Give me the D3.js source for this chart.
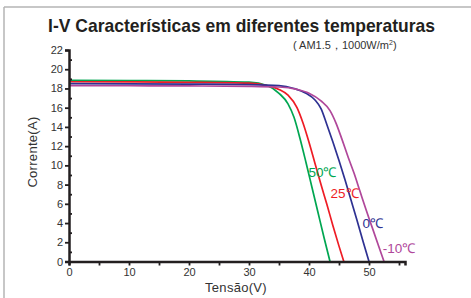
<!DOCTYPE html>
<html><head><meta charset="utf-8">
<script src="https://cdn.jsdelivr.net/npm/d3@7"></script>
<style>body{margin:0;background:#fff}svg{display:block}text{font-family:"Liberation Sans",Arial,sans-serif}</style>
</head><body><svg id="c" width="471" height="298"></svg>
<script>
const titleText = "I-V Características em diferentes temperaturas";
const xLabel = "Tensão(V)";
const yLabel = "Corrente(A)";
const xTicks = [0,10,20,30,40,50];
const xMinorTicks = [5,15,25,35,45,55];
const yTicks = [0,2,4,6,8,10,12,14,16,18,20,22];
const yMinorTicks = [1,3,5,7,9,11,13,15,17,19,21];
const seriesNames = ["50℃","25℃","0℃","-10℃"];
const seriesColors = ["#00a651","#ee1c25","#2e3192","#b0479a"];
const v50 = [0,10,20,30,33,35,36.5,37.5,38.5,39.5,40.5,41.5,42.5,43.5];
const i50 = [18.85,18.82,18.78,18.65,18.3,17.5,16.4,15.0,12.8,10.3,7.7,5.1,2.5,0];
const v25 = [0,10,20,30,33,35,36.5,38,39,40,41,42,43,44,45,45.8];
const i25 = [18.7,18.68,18.64,18.55,18.3,17.9,17.3,16.0,14.4,12.4,10.2,8.0,5.9,3.7,1.6,0];
const v0 = [0,10,20,30,35,37.5,39.5,41,42,43,44,45,46,47,48,49,50];
const i0 = [18.5,18.48,18.45,18.4,18.3,18.0,17.5,16.8,15.9,14.2,12.4,10.5,8.5,6.4,4.3,2.1,0];
const vm10 = [0,10,20,30,35,38,40,42,43.5,44.5,45.5,46.5,47.5,48.5,49.5,50.5,51.5,52.5];
const im10 = [18.3,18.28,18.26,18.22,18.15,17.9,17.5,16.7,15.7,14.4,12.7,10.9,9.2,7.3,5.4,3.6,1.8,0];
const seriesV = [v50,v25,v0,vm10];
const seriesI = [i50,i25,i0,im10];
const labelPos = [[39.9,8.8],[43.6,6.6],[48.9,3.5],[52.3,0.9]]; // data coords of label start

const svg = d3.select("#c");
// frame
svg.append("line").attr("x1",4).attr("x2",4).attr("y1",7).attr("y2",298).attr("stroke","#b5b5b5").attr("stroke-width",1.5);
svg.append("line").attr("x1",4).attr("x2",471).attr("y1",7).attr("y2",7).attr("stroke","#b5b5b5").attr("stroke-width",1.5);

const x = d3.scaleLinear().domain([0,56]).range([69,405]);
const y = d3.scaleLinear().domain([0,22]).range([261.5,50]);

// title
const t = svg.append("text").attr("x",241.5).attr("y",32).attr("text-anchor","middle")
  .attr("font-weight","bold").attr("font-size",17).attr("fill","#231f20").text(titleText);
let w = t.node().getComputedTextLength();
t.attr("font-size",17*387/w);

const st = svg.append("text").attr("x",293).attr("y",48.5).attr("font-size",11).attr("fill","#333");
st.append("tspan").text("( AM1.5，1000W/m");
st.append("tspan").attr("font-size",7).attr("dy",-4).text("2");
st.append("tspan").attr("dy",4).text(")");

// lines
const line = d3.line().x(d=>x(d[0])).y(d=>y(d[1])).curve(d3.curveMonotoneX);
seriesV.forEach((vs,k)=>{
  const pts = vs.map((v,j)=>[v,seriesI[k][j]]);
  svg.append("path").attr("d",line(pts)).attr("fill","none").attr("stroke",seriesColors[k]).attr("stroke-width",1.7);
});

// axes
const xAxis = svg.append("g").attr("transform",`translate(0,${y(0)})`)
  .call(d3.axisBottom(x).tickValues(xTicks).tickSize(4).tickPadding(3));
const xMinor = svg.append("g").attr("transform",`translate(0,${y(0)})`)
  .call(d3.axisBottom(x).tickValues(xMinorTicks).tickSize(4).tickFormat(""));
const yAxis = svg.append("g").attr("transform",`translate(${x(0)},0)`)
  .call(d3.axisLeft(y).tickValues(yTicks).tickSize(4).tickPadding(2));
const yMinor = svg.append("g").attr("transform",`translate(${x(0)},0)`)
  .call(d3.axisRight(y).tickValues(yMinorTicks).tickSize(3).tickFormat(""));
[xAxis,xMinor,yAxis,yMinor].forEach(g=>{
  g.select(".domain").attr("stroke","#231f20").attr("stroke-width",2.5);
  g.selectAll(".tick line").attr("stroke","#231f20").attr("stroke-width",1.8);
  g.selectAll(".tick text").attr("font-size",11).attr("fill","#333").attr("font-family","Liberation Sans, Arial, sans-serif");
});
xMinor.select(".domain").remove(); yMinor.select(".domain").remove();

// axis labels
svg.append("text").attr("x",236).attr("y",292).attr("text-anchor","middle").attr("font-size",13).attr("fill","#333").attr("letter-spacing",0.3).text(xLabel);
svg.append("text").attr("transform","translate(37,152) rotate(-90)").attr("text-anchor","middle").attr("font-size",13).attr("fill","#333").attr("letter-spacing",0.3).text(yLabel);

// series labels
seriesNames.forEach((n,k)=>{
  svg.append("text").attr("x",x(labelPos[k][0])).attr("y",y(labelPos[k][1])).attr("font-size",13.5)
    .attr("fill",seriesColors[k]).text(n);
});
</script></body></html>
